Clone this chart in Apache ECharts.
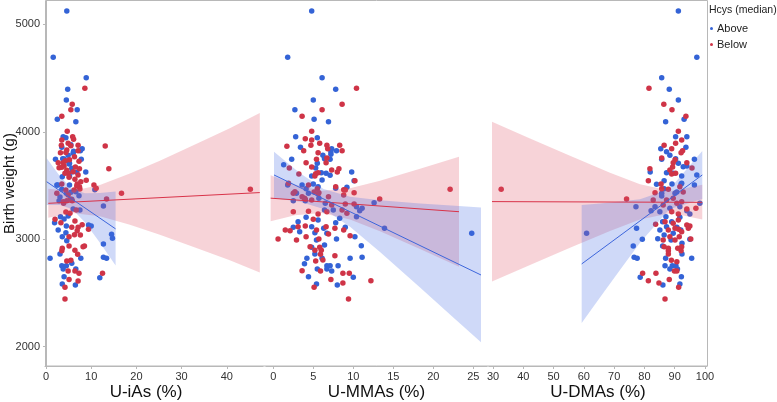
<!DOCTYPE html>
<html><head><meta charset="utf-8">
<script src="https://cdn.jsdelivr.net/npm/echarts@6/dist/echarts.min.js"></script>
<style>html,body{margin:0;padding:0;background:#fff}#c{width:777px;height:402px}</style>
</head><body><div id="c"></div>
<script>
// ---------- data ----------
const groups = ['Above', 'Below'];
const xTitles = ['U-iAs (%)', 'U-MMAs (%)', 'U-DMAs (%)'];
const yTitle = 'Birth weight (g)';
const yTicks = [2000, 3000, 4000, 5000];
const xTicksIAs = [0, 10, 20, 30, 40];
const xTicksMMA = [0, 5, 10, 15, 20, 25];
const xTicksDMA = [30, 40, 50, 60, 70, 80, 90, 100];

// [x, birth weight]
const iAsAbove = [[4.6,5124],[1.6,4693],[8.9,4503],[4.8,4395],[4.5,4296],[6.9,4205],[2.5,4116],[6.6,4094],[3.8,3954],[4.4,3945],[3.5,3855],[8.0,3842],[6.1,3818],[7.6,3824],[4.9,3781],[3.7,3749],[7.8,3744],[2.1,3744],[5.2,3707],[8.8,3626],[5.2,3588],[2.4,3504],[10.8,3461],[5.5,3880],[6.0,3800],[4.0,3747],[5.1,3700],[5.7,3660],[5.8,3628],[6.8,3623],[3.6,3582],[2.6,3505],[5.2,3505],[3.5,3465],[6.6,3442],[5.7,3372],[7.3,3405],[2.9,3359],[12.7,3309],[6.0,3281],[7.5,3272],[3.2,3210],[4.9,3216],[4.0,3188],[4.5,3123],[2.7,3086],[9.4,3132],[4.4,3061],[3.6,3024],[12.7,2956],[14.5,3046],[14.7,3009],[4.6,2986],[0.9,2823],[3.1,2863],[7.7,2823],[5.7,2776],[3.5,2754],[4.5,2754],[3.8,2723],[6.6,2723],[4.0,2651],[3.6,2584],[6.5,2574],[12.7,2832],[13.4,2823],[11.9,2642],[1.9,3154],[4.5,3427],[5.5,3437],[3.1,3393],[10.0,3123]];
const iAsBelow = [[8.6,4404],[5.8,4256],[5.5,4205],[3.5,4144],[4.7,4004],[5.9,3954],[6.1,3930],[3.5,3923],[4.9,3893],[7.1,3874],[3.4,3874],[5.5,3870],[13.1,3868],[4.6,3830],[7.1,3824],[3.2,3805],[6.3,3768],[5.2,3740],[4.3,3731],[2.7,3712],[7.3,3725],[4.0,3681],[6.5,3672],[2.9,3666],[13.9,3656],[7.4,3656],[4.6,3641],[6.0,3628],[8.9,3548],[7.7,3535],[6.9,3514],[7.4,3489],[7.5,3467],[10.6,3505],[11.1,3474],[16.7,3427],[45.2,3465],[13.4,3374],[4.4,3806],[3.8,3712],[3.5,3669],[4.9,3614],[4.2,3614],[7.1,3598],[5.1,3576],[6.4,3558],[3.5,3514],[6.8,3495],[6.2,3458],[4.4,3458],[2.4,3427],[4.9,3412],[5.4,3372],[4.6,3359],[3.9,3334],[6.7,3272],[5.3,3241],[4.4,3253],[2.0,3186],[6.4,3170],[3.3,3154],[5.7,3111],[7.1,3111],[9.4,3092],[6.9,3079],[5.1,3024],[6.3,3042],[7.6,3039],[8.5,2937],[5.1,2937],[3.6,2916],[3.5,2893],[6.4,2897],[4.6,2797],[5.5,2804],[7.0,2860],[4.9,2704],[6.4,2704],[7.3,2683],[5.1,2624],[7.1,2611],[4.2,2553],[4.2,2444],[12.5,2683],[8.0,3135],[8.2,2931],[3.8,3349],[5.8,3359]];
const mmaAbove = [[4.8,5124],[1.8,4693],[6.1,4503],[7.8,4395],[5.0,4296],[2.7,4205],[5.1,4116],[6.9,4094],[2.8,3954],[5.5,3945],[3.4,3855],[7.3,3842],[7.2,3815],[7.9,3824],[6.2,3781],[2.3,3744],[7.2,3790],[6.4,3749],[5.5,3707],[7.1,3744],[1.3,3694],[9.8,3626],[5.3,3663],[6.6,3614],[6.0,3619],[7.1,3595],[4.8,3588],[6.1,3551],[10.1,3545],[3.6,3505],[4.1,3470],[5.0,3514],[7.8,3474],[9.2,3483],[1.8,3505],[5.6,3489],[4.4,3427],[2.9,3427],[5.7,3381],[2.5,3359],[4.0,3359],[6.5,3334],[7.5,3272],[11.1,3288],[10.4,3210],[6.4,3272],[8.3,3195],[7.8,3154],[3.1,3163],[4.1,3204],[5.6,3179],[2.5,3111],[4.8,3117],[6.3,3102],[3.3,3070],[5.2,3061],[6.7,3055],[9.0,3111],[10.2,3024],[7.9,3002],[5.4,2993],[6.4,2946],[4.8,2925],[5.2,2863],[4.2,2823],[3.9,2772],[6.1,2823],[6.7,2754],[7.1,2754],[6.7,2723],[5.5,2723],[7.3,2704],[8.1,2754],[9.6,2823],[11.1,2832],[10.0,2646],[4.4,2651],[5.4,2584],[8.0,2574],[11.0,2940],[24.8,3055],[13.9,3102],[12.6,3340],[10.8,3266],[10.4,3303]];
const mmaBelow = [[10.4,4404],[8.6,4256],[6.1,4205],[3.6,4144],[4.8,4004],[4.0,3935],[4.8,3923],[1.7,3865],[5.8,3893],[4.7,3874],[8.3,3874],[6.7,3874],[6.8,3842],[8.6,3824],[3.8,3824],[5.6,3805],[6.7,3756],[5.4,3744],[6.6,3712],[4.1,3712],[4.8,3672],[2.0,3663],[8.2,3656],[7.3,3644],[8.0,3626],[5.3,3610],[5.6,3619],[3.2,3607],[10.2,3545],[7.8,3489],[4.4,3505],[5.5,3470],[8.8,3461],[2.5,3427],[10.1,3433],[22.1,3465],[13.3,3374],[5.1,3440],[5.6,3421],[3.9,3381],[5.7,3433],[5.2,3588],[1.9,3520],[9.0,3458],[2.7,3442],[3.6,3396],[4.0,3372],[4.8,3365],[6.9,3396],[8.8,3412],[9.0,3328],[10.1,3328],[7.3,3319],[2.5,3256],[4.4,3260],[5.6,3235],[6.7,3256],[8.6,3272],[9.2,3241],[5.0,3186],[3.1,3117],[4.0,3123],[1.5,3086],[2.1,3079],[6.6,3117],[7.7,3102],[8.8,3086],[5.4,3086],[6.9,3049],[9.6,3033],[4.1,3024],[0.6,3002],[5.7,3002],[2.9,2993],[4.6,2931],[5.8,2925],[5.2,2897],[6.0,2897],[5.9,2860],[5.3,2797],[6.2,2807],[7.7,2847],[3.6,2707],[5.9,2704],[8.7,2683],[9.5,2683],[7.2,2624],[8.7,2593],[5.1,2553],[9.4,2444],[12.2,2614]];
const dmaAbove = [[91.2,5124],[97.3,4693],[85.7,4503],[88.2,4395],[91.2,4296],[93.1,4116],[87.0,4094],[90.3,3954],[94.0,3954],[93.7,3855],[85.4,3842],[87.3,3815],[85.7,3744],[90.3,3749],[88.4,3781],[91.2,3707],[96.5,3744],[81.9,3626],[87.3,3619],[92.3,3588],[89.5,3614],[86.5,3545],[94.0,3681],[89.1,3514],[92.1,3514],[96.5,3505],[84.0,3511],[86.5,3470],[90.7,3440],[85.7,3402],[92.8,3675],[97.3,3598],[92.3,3521],[98.3,3334],[85.7,3427],[83.5,3303],[90.1,3427],[77.2,3303],[82.2,3266],[85.1,3256],[88.4,3288],[91.7,3303],[94.0,3266],[87.1,3210],[91.7,3204],[95.0,3235],[77.4,3102],[79.3,3000],[86.0,3163],[89.0,3163],[87.3,3117],[85.1,3086],[90.7,3111],[89.5,3055],[92.0,3086],[86.5,3039],[95.0,3000],[88.8,2993],[84.4,3005],[86.0,2937],[76.3,2937],[92.4,2962],[76.6,2832],[77.6,2823],[87.0,2823],[92.4,2863],[95.6,2823],[86.8,2754],[89.2,2754],[90.4,2754],[88.4,2723],[90.9,2723],[78.6,2646],[92.2,2651],[86.1,2574],[91.7,2584],[60.9,3055]];
const dmaBelow = [[81.5,4404],[86.4,4256],[89.1,4205],[93.7,4144],[91.2,4004],[92.3,3923],[86.5,3874],[90.3,3893],[89.0,3842],[92.6,3824],[92.1,3805],[85.7,3756],[90.1,3740],[89.5,3712],[94.0,3712],[89.3,3672],[81.8,3656],[95.7,3663],[88.4,3644],[90.3,3614],[89.0,3607],[81.3,3545],[85.5,3514],[91.7,3489],[83.5,3433],[92.8,3440],[85.7,3470],[74.1,3374],[87.9,3465],[89.5,3381],[82.9,3365],[92.3,3349],[90.7,3334],[86.2,3319],[87.3,3365],[89.0,3256],[91.2,3235],[94.0,3281],[97.0,3288],[86.8,3163],[89.5,3148],[91.2,3179],[94.0,3132],[87.9,3086],[90.1,3102],[91.3,3092],[92.3,3070],[94.5,3102],[88.4,3024],[91.5,3024],[86.2,2993],[90.1,2993],[92.3,2931],[86.5,2931],[87.9,2916],[87.9,2893],[87.9,2863],[91.0,2916],[92.1,2893],[88.9,2804],[90.7,2791],[89.9,2704],[90.7,2704],[79.4,2683],[83.8,2683],[81.3,2614],[88.2,2624],[84.8,2593],[91.3,2553],[86.8,2444],[83.7,3139],[95.3,3002],[95.0,3123],[32.7,3465]];

// fitted lines (end points) and confidence band edges
const iAsAboveLine = [[0.15,3535],[15.4,3096]];
const iAsAboveBandX = [0.15,3.09,5.83,8.62,11.93,15.4];
const iAsAboveUpper = [3753,3585,3466,3427,3429,3443];
const iAsAboveLower = [3318,3319,3280,3159,2968,2755];
const iAsBelowLine = [[0.51,3334],[47.29,3434]];
const iAsBelowBandX = [0.51,5.75,11.93,18.56,25.19,34.03,40.66,47.29];
const iAsBelowUpper = [3469,3448,3504,3611,3731,3903,4033,4175];
const iAsBelowLower = [3199,3243,3213,3134,3042,2907,2805,2691];

const mmaAboveLine = [[0.09,3598],[25.96,2667]];
const mmaAboveBandX = [0.09,3.34,6.29,9.59,13.34,18.34,22.71,25.96];
const mmaAboveUpper = [3815,3613,3467,3395,3362,3333,3311,3294];
const mmaAboveLower = [3381,3348,3281,3116,2880,2550,2258,2040];
const mmaBelowLine = [[-0.33,3382],[23.21,3256]];
const mmaBelowBandX = [-0.33,2.71,6.09,9.59,13.34,18.34,23.21];
const mmaBelowUpper = [3596,3508,3450,3474,3545,3655,3768];
const mmaBelowLower = [3168,3224,3245,3184,3074,2909,2744];

const dmaAboveLine = [[59.28,2770],[99.1,3598]];
const dmaAboveBandX = [59.28,65.32,71.92,78.53,88.23,99.1];
const dmaAboveUpper = [3319,3333,3352,3373,3465,3821];
const dmaAboveLower = [2221,2457,2714,2966,3279,3374];
const dmaBelowLine = [[29.67,3350],[99.1,3343]];
const dmaBelowBandX = [29.67,42.22,55.42,68.63,78.53,88.9,99.1];
const dmaBelowUpper = [4094,3937,3776,3619,3512,3449,3508];
const dmaBelowLower = [2607,2761,2920,3076,3183,3244,3183];

// ---------- styling ----------
const FONT = 'Liberation Sans, Arial, Helvetica, sans-serif';
const BLUE = '#3463d6', RED = '#cf3447';
const BLUE_LINE = '#3d66dc', RED_LINE = '#d93349';
const BLUE_BAND = 'rgba(70,110,228,0.26)', RED_BAND = 'rgba(222,78,100,0.25)';
const AXIS_COL = '#b8b8b8';
const Y_MIN = 1820, Y_MAX = 5217;

const panels = [
  {left:45, width:218, min:-0.22, max:48.0, ticks:xTicksIAs, title:xTitles[0], namePad:[0,16,0,0]},
  {left:266, width:221, min:-0.91, max:26.71, ticks:xTicksMMA, title:xTitles[1], namePad:[0,0,0,0]},
  {left:489, width:218, min:28.68, max:100.66, ticks:xTicksDMA, title:xTitles[2], namePad:[0,0,0,0]}
];

const plain = v => String(Math.round(v));
const grid = panels.map(p => ({left:p.left, width:p.width, top:1, height:365,
  containLabel:false, outerBoundsMode:'none'}));
const xAxis = panels.map((p, i) => ({
  gridIndex:i, type:'value', min:p.min, max:p.max,
  axisLine:{show:true, lineStyle:{color:AXIS_COL, width:1}},
  axisTick:{show:true, customValues:p.ticks, length:3, lineStyle:{color:AXIS_COL}},
  axisLabel:{customValues:p.ticks, formatter:plain, fontSize:11, color:'#333', margin:5, fontFamily:FONT},
  splitLine:{show:false},
  name:p.title, nameLocation:'middle', nameGap:18, nameMoveOverlap:false,
  nameTextStyle:{fontSize:17, color:'#111', fontFamily:FONT, padding:p.namePad}
}));
const yAxis = panels.map((p, i) => ({
  gridIndex:i, type:'value', min:Y_MIN, max:Y_MAX,
  show: i === 0,
  axisLine:{show:true, lineStyle:{color:AXIS_COL}},
  axisTick:{show:true, customValues:yTicks, length:3, lineStyle:{color:AXIS_COL}},
  axisLabel:{customValues:yTicks, formatter:plain, fontSize:11, color:'#333', margin:5, fontFamily:FONT},
  splitLine:{show:false},
  name: i === 0 ? yTitle : '', nameLocation:'middle', nameGap:28, nameMoveOverlap:false,
  nameTextStyle:{fontSize:15, color:'#111', fontFamily:FONT}
}));

function scatter(name, idx, data, color) {
  return {type:'scatter', name, xAxisIndex:idx, yAxisIndex:idx, data,
    symbol:'circle', symbolSize:5.5, itemStyle:{color, opacity:1}, z:2, silent:true};
}
function band(idx, xs, up, lo, fill) {
  return {type:'custom', name:'band', xAxisIndex:idx, yAxisIndex:idx, z:3, silent:true,
    data:[[xs[0], up[0]]],
    renderItem:(params, api) => {
      const pts = [];
      for (let i = 0; i < xs.length; i++) pts.push(api.coord([xs[i], up[i]]));
      for (let i = xs.length - 1; i >= 0; i--) pts.push(api.coord([xs[i], lo[i]]));
      return {type:'polygon', shape:{points:pts}, style:{fill}};
    }};
}
function fit(idx, pts, color) {
  return {type:'line', name:'fit', xAxisIndex:idx, yAxisIndex:idx, data:pts, symbol:'none',
    lineStyle:{color, width:1}, z:4, silent:true};
}

const series = [
  scatter('Above', 0, iAsAbove, BLUE), scatter('Below', 0, iAsBelow, RED),
  scatter('Above', 1, mmaAbove, BLUE), scatter('Below', 1, mmaBelow, RED),
  scatter('Above', 2, dmaAbove, BLUE), scatter('Below', 2, dmaBelow, RED),
  band(0, iAsBelowBandX, iAsBelowUpper, iAsBelowLower, RED_BAND),
  band(0, iAsAboveBandX, iAsAboveUpper, iAsAboveLower, BLUE_BAND),
  band(1, mmaBelowBandX, mmaBelowUpper, mmaBelowLower, RED_BAND),
  band(1, mmaAboveBandX, mmaAboveUpper, mmaAboveLower, BLUE_BAND),
  band(2, dmaBelowBandX, dmaBelowUpper, dmaBelowLower, RED_BAND),
  band(2, dmaAboveBandX, dmaAboveUpper, dmaAboveLower, BLUE_BAND),
  fit(0, iAsBelowLine, RED_LINE), fit(0, iAsAboveLine, BLUE_LINE),
  fit(1, mmaBelowLine, RED_LINE), fit(1, mmaAboveLine, BLUE_LINE),
  fit(2, dmaBelowLine, RED_LINE), fit(2, dmaAboveLine, BLUE_LINE)
];

const chart = echarts.init(document.getElementById('c'), null, {renderer:'canvas'});
chart.setOption({
  animation:false,
  backgroundColor:'#fff',
  title:{text:'Hcys (median)', left:709, top:5, padding:0,
    textStyle:{fontSize:10.5, fontWeight:'normal', color:'#222', fontFamily:FONT}},
  legend:{data:groups, orient:'vertical', left:710, top:23, padding:0, itemGap:5,
    icon:'circle', itemWidth:3, itemHeight:3,
    textStyle:{fontSize:11, color:'#222', fontFamily:FONT, padding:[0,0,0,-1]}},
  graphic:[{type:'rect', silent:true, z:-1,
    shape:{x:45.5, y:0.5, width:662, height:365.5},
    style:{fill:'none', stroke:AXIS_COL, lineWidth:1}}],
  grid, xAxis, yAxis, series
});
</script>
</body></html>
